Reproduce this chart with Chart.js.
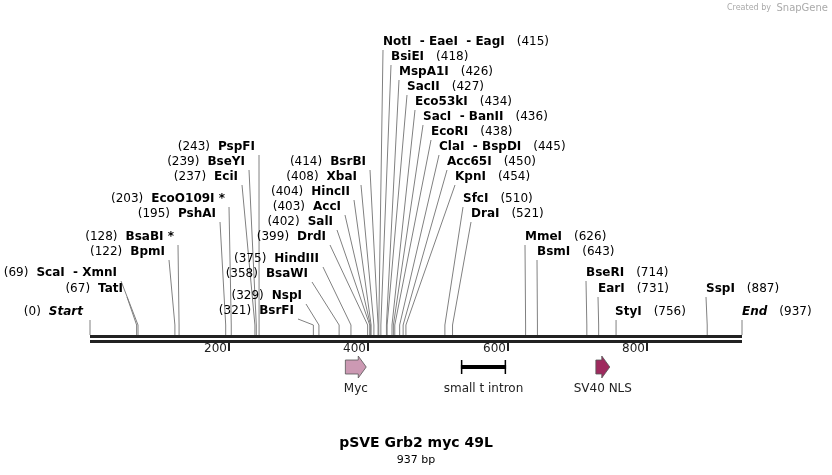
<!DOCTYPE html>
<html>
<head>
<meta charset="utf-8">
<script src="https://cdn.jsdelivr.net/npm/chart.js@4/dist/chart.umd.min.js"></script>
<style>
	html, body { margin: 0; padding: 0; background: #fff; }
	#wrap { width: 832px; height: 475px; }
</style>
</head>
<body>
<div id="wrap"><canvas id="chart" width="832" height="475"></canvas></div>
<script>
// sequence data
var seqName = 'pSVE Grb2 myc 49L';
var seqLength = 937;
var axisTicks = [200, 400, 600, 800];

var enzymeNames = [
	'NotI  - EaeI  - EagI', 'BsiEI', 'MspA1I', 'SacII', 'Eco53kI', 'SacI  - BanII', 'EcoRI', 'ClaI  - BspDI', 'Acc65I', 'KpnI',
	'SfcI', 'DraI', 'MmeI', 'BsmI', 'BseRI', 'EarI', 'StyI', 'SspI', 'End',
	'PspFI', 'BseYI', 'EciI', 'EcoO109I *', 'PshAI', 'BsaBI *', 'BpmI', 'ScaI  - XmnI', 'TatI', 'Start',
	'BsrBI', 'XbaI', 'HincII', 'AccI', 'SalI', 'DrdI', 'HindIII', 'BsaWI', 'NspI', 'BsrFI'
];
var enzymeCuts = [
	415, 418, 426, 427, 434, 436, 438, 445, 450, 454,
	510, 521, 626, 643, 714, 731, 756, 887, 937,
	243, 239, 237, 203, 195, 128, 122, 69, 67, 0,
	414, 408, 404, 403, 402, 399, 375, 358, 329, 321
];

var featureNames = ['Myc', 'small t intron', 'SV40 NLS'];
var featureStarts = [367, 533, 727];
var featureEnds = [397, 598, 747];

// label layout: side, text anchor x (px), row y (px)
var labelLayout = [
	['R', 383, 42], ['R', 391, 57], ['R', 399, 72], ['R', 407, 87], ['R', 415, 102], ['R', 423, 117], ['R', 431, 132], ['R', 439, 147], ['R', 447, 162], ['R', 455, 177],
	['R', 463, 199], ['R', 471, 214], ['R', 525, 237], ['R', 537, 252], ['R', 586, 273], ['R', 598, 289], ['R', 615, 312], ['R', 706, 289], ['R', 742, 312],
	['L', 255, 147], ['L', 245, 162], ['L', 238, 177], ['L', 225, 199], ['L', 216, 214], ['L', 174, 237], ['L', 165, 252], ['L', 117, 273], ['L', 123, 289], ['L', 83, 312],
	['L', 366, 162], ['L', 357, 177], ['L', 350, 192], ['L', 341, 207], ['L', 333, 222], ['L', 326, 237], ['L', 319, 259], ['L', 308, 274], ['L', 302, 296], ['L', 294, 311]
];

var BOLD = 'bold 12px "DejaVu Sans", Verdana, sans-serif';
var NORM = '12px "DejaVu Sans", Verdana, sans-serif';
var BACKBONE_Y = 338;

var mapPlugin = {
	id: 'map',
	afterDraw: function(chart){
		var ctx = chart.ctx;
		var xs = chart.scales.x;
		var px = function(v){ return xs.getPixelForValue(v); };
		ctx.save();
		ctx.textBaseline = 'middle';

		// leaders and labels
		enzymeNames.forEach(function(name, i){
			var lay = labelLayout[i], side = lay[0], tx = lay[1], ty = lay[2];
			var cx = px(enzymeCuts[i]);
			var italic = name === 'Start' || name === 'End';
			var nameFont = italic ? 'italic ' + BOLD : BOLD;
			var num = '(' + enzymeCuts[i] + ')';
			ctx.font = nameFont;
			var nw = ctx.measureText(name).width;
			var ax;
			ctx.fillStyle = '#000';
			if(side === 'R'){
				ctx.font = nameFont; ctx.textAlign = 'left';
				ctx.fillText(name, tx, ty);
				ctx.font = NORM;
				ctx.fillText(num, tx + nw + 12, ty);
				ax = tx;
			} else {
				ctx.font = nameFont; ctx.textAlign = 'right';
				ctx.fillText(name, tx, ty);
				ctx.font = NORM;
				ctx.fillText(num, tx - nw - 8, ty);
				ax = tx + 4;
			}
			if(name === 'Start' || name === 'End' || name === 'StyI') ax = cx;
			ctx.strokeStyle = '#808080';
			ctx.lineWidth = 1;
			ctx.beginPath();
			ctx.moveTo(ax, ty + 8);
			ctx.lineTo(cx, 325);
			ctx.lineTo(cx, BACKBONE_Y - 3);
			ctx.stroke();
		});

		// backbone
		ctx.fillStyle = '#222';
		ctx.fillRect(px(0), BACKBONE_Y - 3, px(seqLength) - px(0), 3);
		ctx.fillRect(px(0), BACKBONE_Y + 2, px(seqLength) - px(0), 3);

		// ticks
		ctx.font = '12px "DejaVu Sans", Verdana, sans-serif';
		ctx.textAlign = 'right';
		axisTicks.forEach(function(t){
			var x = Math.round(px(t));
			ctx.fillRect(x - 1, BACKBONE_Y + 5, 2, 8);
			ctx.fillText(String(t), x - 2, BACKBONE_Y + 11);
		});

		// features
		var fy = 367;
		featureNames.forEach(function(f, i){
			var x0 = px(featureStarts[i]), x1 = px(featureEnds[i]);
			if(i === 1){
				ctx.fillStyle = '#000';
				ctx.fillRect(x0, fy - 2, x1 - x0, 4);
				ctx.fillRect(x0, fy - 7, 1.5, 14);
				ctx.fillRect(x1 - 1.5, fy - 7, 1.5, 14);
			} else {
				var head = 8;
				ctx.fillStyle = i === 0 ? '#cc99b3' : '#9e2a5e';
				ctx.strokeStyle = '#555';
				ctx.lineWidth = 0.8;
				ctx.beginPath();
				ctx.moveTo(x0, fy - 7);
				ctx.lineTo(x1 - head, fy - 7);
				ctx.lineTo(x1 - head, fy - 11);
				ctx.lineTo(x1, fy);
				ctx.lineTo(x1 - head, fy + 11);
				ctx.lineTo(x1 - head, fy + 7);
				ctx.lineTo(x0, fy + 7);
				ctx.closePath();
				ctx.fill(); ctx.stroke();
			}
			ctx.fillStyle = '#222';
			ctx.textAlign = 'center';
			ctx.font = '12px "DejaVu Sans", Verdana, sans-serif';
			ctx.fillText(f, (x0 + x1) / 2, 389);
		});

		// title
		ctx.textAlign = 'center';
		ctx.fillStyle = '#000';
		ctx.font = 'bold 14px "DejaVu Sans", Verdana, sans-serif';
		ctx.fillText(seqName, 416, 443);
		ctx.font = '11px "DejaVu Sans", Verdana, sans-serif';
		ctx.fillText(seqLength + ' bp', 416, 460);

		ctx.textAlign = 'right';
		ctx.fillStyle = '#aaa';
		ctx.font = '8px "DejaVu Sans", sans-serif';
		ctx.fillText('Created by', 771, 8);
		ctx.font = '10px "DejaVu Sans", sans-serif';
		ctx.fillText('SnapGene', 828, 8);
		ctx.restore();
	}
};

// pixel 90 = bp 0, pixel 742 = bp 937
var pxPerBp = 652 / seqLength;

new Chart(document.getElementById('chart').getContext('2d'), {
	type: 'scatter',
	data: { datasets: [{ data: enzymeCuts.map(function(c){ return { x: c, y: 0 }; }), pointRadius: 0 }] },
	options: {
		animation: false,
		responsive: false,
		layout: { padding: 0 },
		plugins: { legend: { display: false }, tooltip: { enabled: false } },
		scales: {
			x: { type: 'linear', display: false, min: -90 / pxPerBp, max: (832 - 90) / pxPerBp },
			y: { display: false, min: -1, max: 1 }
		}
	},
	plugins: [mapPlugin]
});
</script>
</body>
</html>
